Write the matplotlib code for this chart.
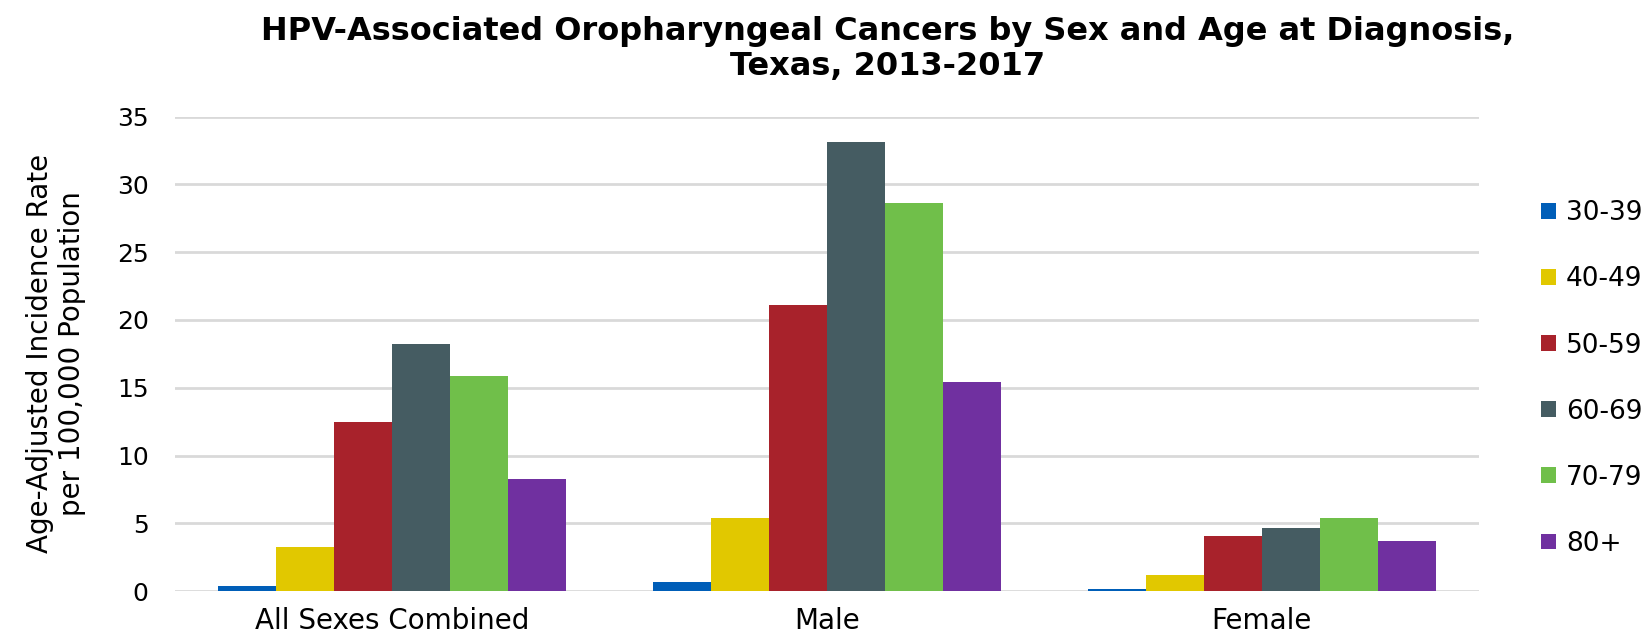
import matplotlib
matplotlib.use("Agg")
import matplotlib.pyplot as plt
import numpy as np

categories = ["All Sexes Combined", "Male", "Female"]
age_groups = ["30-39", "40-49", "50-59", "60-69", "70-79", "80+"]
rate_30_39 = [0.4, 0.7, 0.2]
rate_40_49 = [3.3, 5.4, 1.2]
rate_50_59 = [12.5, 21.1, 4.1]
rate_60_69 = [18.2, 33.1, 4.7]
rate_70_79 = [15.9, 28.6, 5.4]
rate_80p = [8.3, 15.4, 3.7]
series = [rate_30_39, rate_40_49, rate_50_59, rate_60_69, rate_70_79, rate_80p]
colors = ["#005EB8", "#E1C800", "#A8222B", "#455C62", "#70BF4A", "#7030A0"]
yticks = [0, 5, 10, 15, 20, 25, 30, 35]

plt.rcParams['font.family'] = ['DejaVu Sans']
fig = plt.figure(figsize=(16.44, 6.33), dpi=100)
L, R, T, B = 175, 1479, 116.5, 591.3
ax = fig.add_axes([L/1644, 1-B/633, (R-L)/1644, (B-T)/633])

x = np.arange(len(categories))
w = 0.8 / 6
for i, (vals, c, lab) in enumerate(zip(series, colors, age_groups)):
    ax.bar(x + (i - 2.5) * w, vals, width=w, color=c, label=lab, zorder=3)

ax.set_xlim(-0.5, 2.5)
ax.set_ylim(0, 35)
ax.set_yticks(yticks)
ax.set_xticks(x)
ax.set_xticklabels(categories)
ax.tick_params(axis='both', length=0, colors='black')
ax.tick_params(axis='y', pad=19, labelsize=18)
ax.tick_params(axis='x', pad=11, labelsize=20)
ax.grid(axis='y', color='#D9D9D9', linewidth=2, zorder=0)
for s in ax.spines.values():
    s.set_visible(False)

ax.set_ylabel("Age-Adjusted Incidence Rate\nper 100,000 Population", fontsize=20, labelpad=22, linespacing=1.2)

leg = ax.legend(loc='center left', bbox_to_anchor=((1541-L)/(R-L), 0.448), frameon=False,
                fontsize=19, handlelength=0.55, handleheight=0.55, handletextpad=0.4,
                labelspacing=1.52, borderaxespad=0, borderpad=0)

fig.text(888/1644, 1-49/633, "HPV-Associated Oropharyngeal Cancers by Sex and Age at Diagnosis,\nTexas, 2013-2017",
         ha='center', va='center', fontsize=23, fontweight='bold', linespacing=1.2)

fig.savefig("out.png", dpi=100)
